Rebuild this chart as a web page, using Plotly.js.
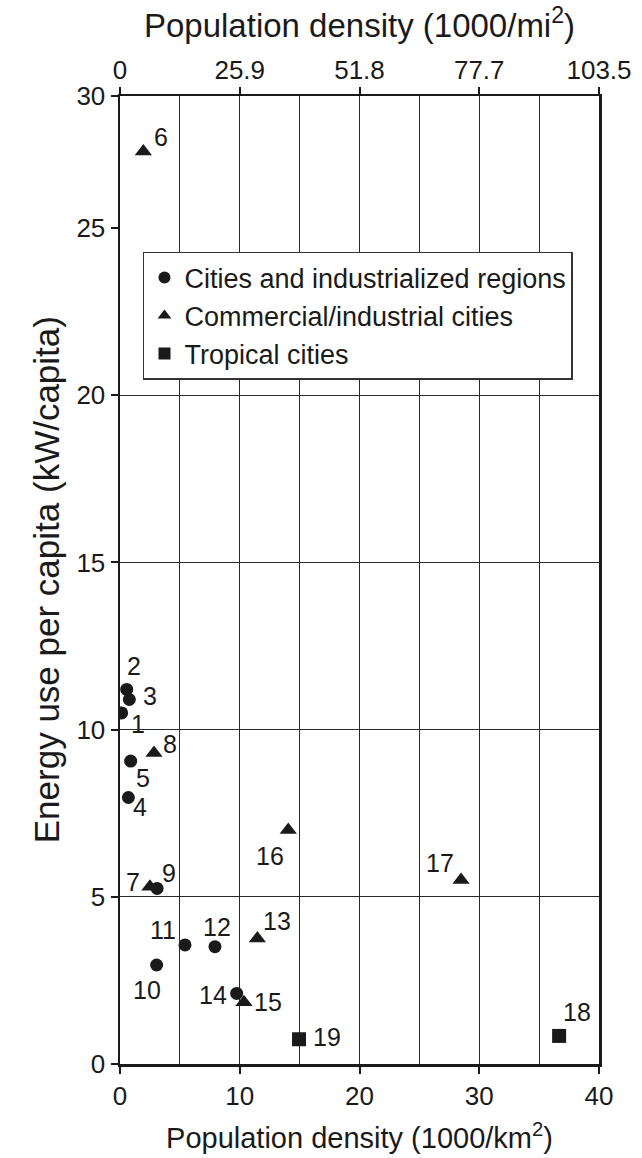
<!DOCTYPE html>
<html>
<head>
<meta charset="utf-8">
<script src="https://cdn.plot.ly/plotly-3.0.1.min.js"></script>
<style>
  html, body { margin: 0; padding: 0; background: #fff; }
  #chart { width: 642px; height: 1158px; }
</style>
</head>
<body>
<div id="chart"></div>
<script>
// Energy use per capita vs. population density, numbered cities/regions.

// Cities and industrialized regions
const cityIds = ['1', '2', '3', '4', '5', '9', '10', '11', '12', '14'];
const cityDensity = [0.14, 0.56, 0.78, 0.70, 0.89, 3.1, 3.06, 5.43, 7.93, 9.74];
const cityEnergy = [10.5, 11.2, 10.9, 7.97, 9.06, 5.25, 2.96, 3.56, 3.51, 2.11];

// Commercial/industrial cities
const commIds = ['6', '7', '8', '13', '15', '16', '17'];
const commDensity = [1.95, 2.5, 2.84, 11.47, 10.35, 14.05, 28.48];
const commEnergy = [27.9, 5.3, 9.3, 3.75, 1.85, 7.0, 5.5];

// Tropical cities
const tropIds = ['18', '19'];
const tropDensity = [36.67, 14.95];
const tropEnergy = [0.84, 0.74];

// Axis ticks: km² scale (bottom) and the same positions in 1000/mi² (top)
const kmTicks = [0, 10, 20, 30, 40];
const miTickText = ['0', '25.9', '51.8', '77.7', '103.5'];
const energyTicksLow = [0, 5, 10, 15, 20, 25];
const energyTicksHigh = [30];

// Label offsets (px) for each numbered point
const labelOffset = {
  '1': [16, -11], '2': [7, 23], '3': [21, 4], '4': [12, -10], '5': [12, -17],
  '6': [18, 14], '7': [-17, 5], '8': [16, 9], '9': [12, 15], '10': [-10, -25],
  '11': [-22, 15], '12': [2, 20], '13': [20, 18], '14': [-24, -2], '15': [24, 0],
  '16': [-18, -26], '17': [-21, 17], '18': [18, 24], '19': [28, 2]
};

const SPLIT = 25;          // lower panel 0–25, upper panel 25–30
const INK = '#1a1a1a';
const FONT = 'Liberation Sans, Arial, sans-serif';

const traces = [];
const annotations = [];

function addSeries(name, ids, xs, ys, symbol, size) {
  const lo = { x: [], y: [], t: [] }, hi = { x: [], y: [], t: [] };
  xs.forEach((x, i) => {
    const p = ys[i] > SPLIT ? hi : lo;
    p.x.push(x); p.y.push(ys[i]); p.t.push(ids[i]);
  });
  const marker = { symbol: symbol, size: size, color: INK };
  traces.push({ type: 'scatter', mode: 'markers', name: name, x: lo.x, y: lo.y,
    xaxis: 'x', yaxis: 'y', marker: marker, hoverinfo: 'skip' });
  if (hi.x.length) {
    traces.push({ type: 'scatter', mode: 'markers', name: name, x: hi.x, y: hi.y,
      xaxis: 'x2', yaxis: 'y2', marker: marker, showlegend: false, hoverinfo: 'skip' });
  }
  [[lo, 'x', 'y'], [hi, 'x2', 'y2']].forEach(([p, xr, yr]) => {
    p.x.forEach((x, i) => {
      const off = labelOffset[p.t[i]] || [14, 10];
      annotations.push({ x: x, y: p.y[i], xref: xr, yref: yr, text: p.t[i],
        showarrow: false, xshift: off[0], yshift: off[1],
        font: { family: FONT, size: 25, color: INK } });
    });
  });
}

addSeries('Cities and industrialized regions', cityIds, cityDensity, cityEnergy, 'circle', 13);
addSeries('Commercial/industrial cities', commIds, commDensity, commEnergy, 'triangle-up', 15);
addSeries('Tropical cities', tropIds, tropDensity, tropEnergy, 'square', 14);

// Vertical axis title spanning both panels
annotations.push({
  xref: 'paper', yref: 'paper', x: -0.154, y: 0.5, xanchor: 'center', yanchor: 'middle',
  text: 'Energy use per capita (kW/capita)', textangle: -90, showarrow: false,
  font: { family: FONT, size: 35, color: INK }
});

const lowTop = (1064 - 228) / 968;

const gridCommon = {
  showgrid: true, gridcolor: '#2a2a2a', gridwidth: 1.2, zeroline: false,
  showline: true, linecolor: INK, linewidth: 2.5,
  ticks: 'outside', ticklen: 7, tickwidth: 2, tickcolor: INK,
  tickfont: { family: FONT, size: 26, color: INK }
};

const layout = {
  width: 642, height: 1158,
  margin: { l: 120, r: 43, t: 96, b: 94 },
  paper_bgcolor: '#fff', plot_bgcolor: '#fff',
  font: { family: FONT, color: INK },
  showlegend: true,
  legend: {
    x: 0.048, y: 0.839, xanchor: 'left', yanchor: 'top',
    bgcolor: '#fff', bordercolor: '#333', borderwidth: 1.5,
    font: { family: FONT, size: 27, color: INK },
    itemsizing: 'constant', tracegroupgap: 0
  },
  xaxis: Object.assign({}, gridCommon, {
    anchor: 'y', range: [0, 40], tickmode: 'array', tickvals: kmTicks,
    minor: { dtick: 5, tick0: 0, showgrid: true, gridcolor: '#2a2a2a', gridwidth: 1.2, ticks: '' },
    title: { text: 'Population density (1000/km<sup>2</sup>)', standoff: 18,
      font: { family: FONT, size: 29, color: INK } }
  }),
  xaxis2: Object.assign({}, gridCommon, {
    anchor: 'y2', side: 'top', range: [0, 40], tickmode: 'array',
    tickvals: kmTicks, ticktext: miTickText,
    minor: { dtick: 5, tick0: 0, showgrid: true, gridcolor: '#2a2a2a', gridwidth: 1.2, ticks: '' },
    ticklabelstandoff: -3,
    title: { text: 'Population density (1000/mi<sup>2</sup>)', standoff: 8,
      font: { family: FONT, size: 33, color: INK } }
  }),
  yaxis: Object.assign({}, gridCommon, {
    anchor: 'x', domain: [0, lowTop], range: [0, SPLIT], mirror: true,
    tickmode: 'array', tickvals: energyTicksLow
  }),
  yaxis2: Object.assign({}, gridCommon, {
    anchor: 'x2', domain: [lowTop, 1], range: [SPLIT, 30], mirror: true,
    tickmode: 'array', tickvals: energyTicksHigh
  }),
  annotations: annotations
};

Plotly.newPlot('chart', traces, layout, { displayModeBar: false, staticPlot: true });
</script>
</body>
</html>
